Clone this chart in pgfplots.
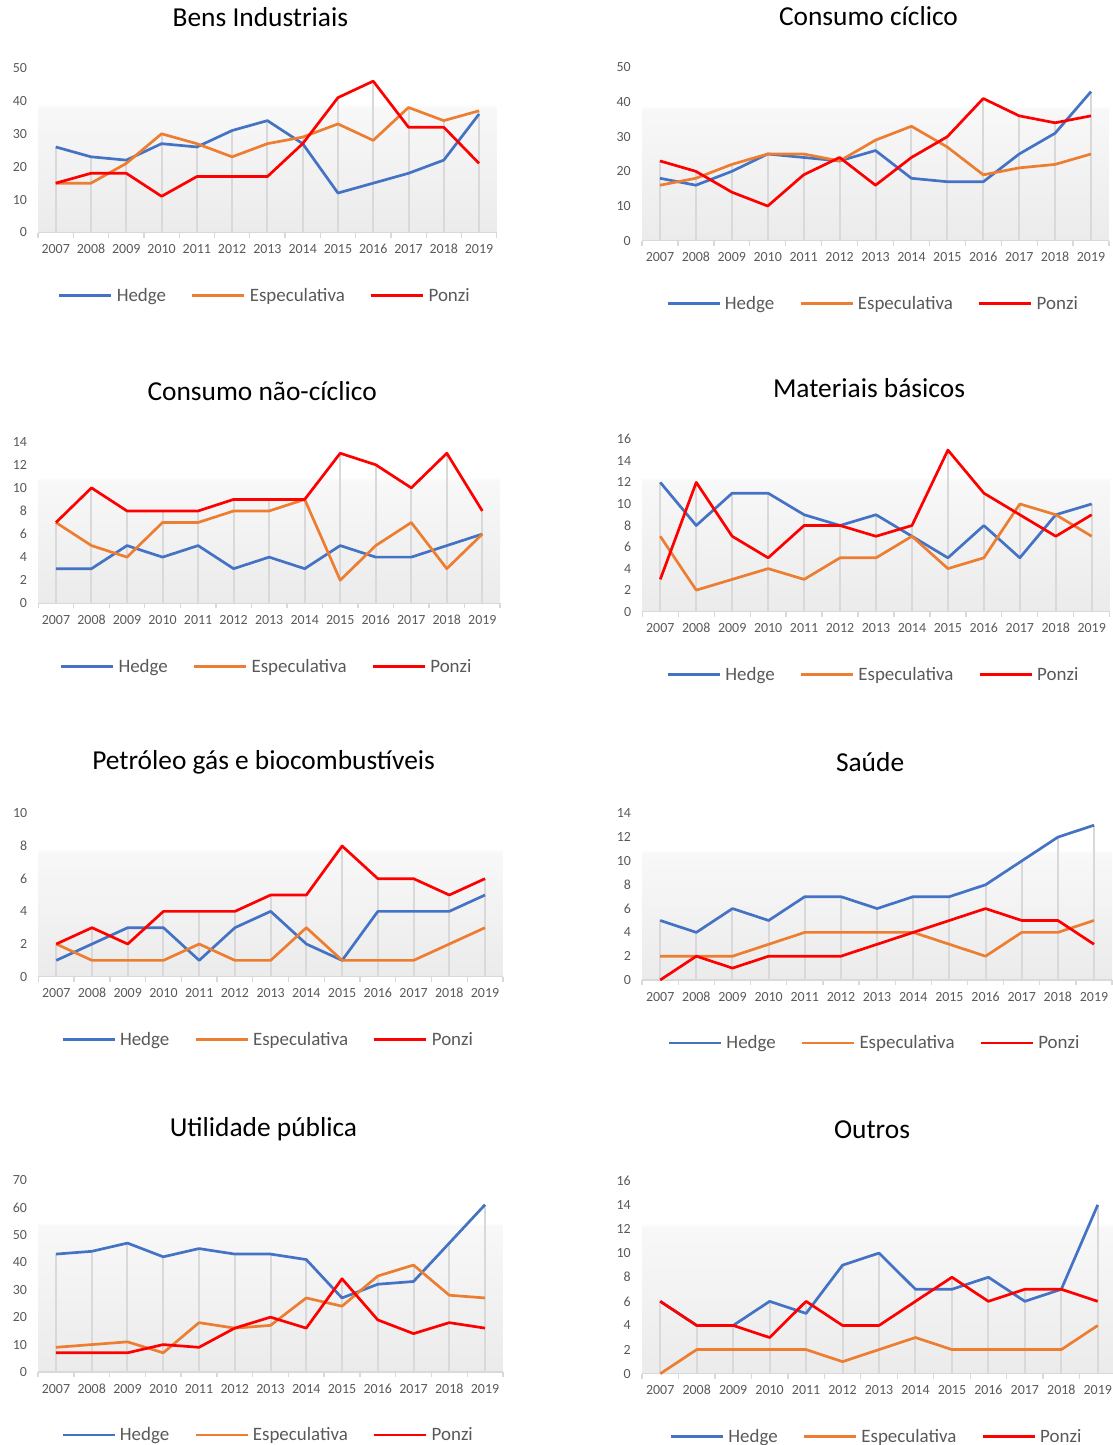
\documentclass[border=0pt]{standalone}
\usepackage{pgfplots}
\pgfplotsset{compat=1.18}
\usepackage{pgfplotstable}
\usepackage{fontspec}
\setmainfont{Carlito}
\definecolor{hedge}{HTML}{4472C4}
\definecolor{esp}{HTML}{ED7D31}
\definecolor{ponzi}{HTML}{FF0000}
\definecolor{dropc}{HTML}{D9D9D9}
\definecolor{lblc}{HTML}{595959}
\definecolor{bgbot}{HTML}{EBEBEB}
\definecolor{bgtop}{HTML}{F8F8F8}
\pgfdeclareverticalshading{plotbg}{100bp}{color(0bp)=(bgbot); color(25bp)=(bgbot); color(63bp)=(bgtop); color(64bp)=(white); color(100bp)=(white)}

\pgfplotstableread{
x H E P
0 26 15 15
1 23 15 18
2 22 21 18
3 27 30 11
4 26 27 17
5 31 23 17
6 34 27 17
7 27 29 27
8 12 33 41
9 15 28 46
10 18 38 32
11 22 34 32
12 36 37 21
}\tA
\pgfplotstableread{
x H E P
0 18 16 23
1 16 18 20
2 20 22 14
3 25 25 10
4 24 25 19
5 23 23 24
6 26 29 16
7 18 33 24
8 17 27 30
9 17 19 41
10 25 21 36
11 31 22 34
12 43 25 36
}\tB
\pgfplotstableread{
x H E P
0 3 7 7
1 3 5 10
2 5 4 8
3 4 7 8
4 5 7 8
5 3 8 9
6 4 8 9
7 3 9 9
8 5 2 13
9 4 5 12
10 4 7 10
11 5 3 13
12 6 6 8
}\tC
\pgfplotstableread{
x H E P
0 12 7 3
1 8 2 12
2 11 3 7
3 11 4 5
4 9 3 8
5 8 5 8
6 9 5 7
7 7 7 8
8 5 4 15
9 8 5 11
10 5 10 9
11 9 9 7
12 10 7 9
}\tD
\pgfplotstableread{
x H E P
0 1 2 2
1 2 1 3
2 3 1 2
3 3 1 4
4 1 2 4
5 3 1 4
6 4 1 5
7 2 3 5
8 1 1 8
9 4 1 6
10 4 1 6
11 4 2 5
12 5 3 6
}\tE
\pgfplotstableread{
x H E P
0 5 2 0
1 4 2 2
2 6 2 1
3 5 3 2
4 7 4 2
5 7 4 2
6 6 4 3
7 7 4 4
8 7 3 5
9 8 2 6
10 10 4 5
11 12 4 5
12 13 5 3
}\tF
\pgfplotstableread{
x H E P
0 43 9 7
1 44 10 7
2 47 11 7
3 42 7 10
4 45 18 9
5 43 16 16
6 43 17 20
7 41 27 16
8 27 24 34
9 32 35 19
10 33 39 14
11 47 28 18
12 61 27 16
}\tG
\pgfplotstableread{
x H E P
0 6 0 6
1 4 2 4
2 4 2 4
3 6 2 3
4 5 2 6
5 9 1 4
6 10 2 4
7 7 3 6
8 7 2 8
9 8 2 6
10 6 2 7
11 7 2 7
12 14 4 6
}\tH

\pgfplotsset{
 panel/.style={
  scale only axis, anchor=south west, clip=false,
  xmin=-0.5, xmax=12.5, ymin=0,
  xtick={0,...,12},
  xticklabels={2007,2008,2009,2010,2011,2012,2013,2014,2015,2016,2017,2018,2019},
  minor xtick={-0.5,0.5,...,12.5},
  axis x line*=bottom, axis y line*=left,
  x axis line style={draw=dropc, line width=1.3bp, -},
  y axis line style={draw=none},
  tick align=outside,
  major tick length=0pt, minor tick length=5bp,
  minor tick style={draw=dropc, line width=1.3bp},
  major tick style={draw=none},
  tick label style={font=\fontsize{14}{16}\selectfont, text=lblc, inner sep=0pt},
  xticklabel style={text height=9bp, text depth=0pt, anchor=north},
  /pgf/number format/assume math mode=true,
  yticklabel shift=11bp,
  xticklabel shift=12bp,
  axis background/.style={shading=plotbg},
  title style={font=\fontsize{27.5}{31}\selectfont, text=black, at={(0.5,1)}, anchor=center, yshift=45bp, xshift=-7bp},
  legend style={at={(0.5,0)}, anchor=center, yshift=-63bp, xshift=-3bp, draw=none, fill=none, legend columns=3, font=\fontsize{19}{22}\selectfont, text=lblc, /tikz/every even column/.append style={column sep=24bp}, /tikz/every odd column/.append style={column sep=3bp}, nodes={inner sep=1bp}},
  legend image code/.code={\draw[##1] (0bp,0bp) -- (52bp,0bp);},
  legend entries={Hedge,Especulativa,Ponzi},
  every axis plot/.append style={line width=2.7bp, line join=round},
 },
 drop/.style={ycomb, draw=dropc, line width=2bp, forget plot},
}

\newcommand{\panel}[8]{%
\begin{axis}[panel, at={(#1bp,-#2bp)}, width=#3bp, height=#4bp, ymax=#5, ytick={0,#6,...,#5}, title={#7}]
\addplot[drop] table[x=x,y=H]{#8};
\addplot[drop] table[x=x,y=E]{#8};
\addplot[drop] table[x=x,y=P]{#8};
\addplot[draw=hedge] table[x=x,y=H]{#8};
\addplot[draw=esp] table[x=x,y=E]{#8};
\addplot[draw=ponzi] table[x=x,y=P]{#8};
\end{axis}}

\begin{document}
\begin{tikzpicture}
\useasboundingbox (0,0) rectangle (1113bp,-1445bp);
\panel{38.1}{232.5}{458.6}{164.5}{50}{10}{Bens Industriais}{\tA}
\panel{642.0}{240.7}{467.0}{173.4}{50}{10}{Consumo cíclico}{\tB}
\panel{38.2}{603.3}{461.9}{161.6}{14}{2}{Consumo não-cíclico}{\tC}
\panel{642.3}{611.7}{467.4}{172.4}{16}{2}{Materiais básicos}{\tD}
\panel{38.4}{976.7}{464.5}{163.4}{10}{2}{Petróleo gás e biocombustíveis}{\tE}
\panel{642.1}{980.0}{470.0}{166.7}{14}{2}{Saúde}{\tF}
\panel{38.1}{1372.0}{464.8}{192.0}{70}{10}{Utilidade pública}{\tG}
\panel{642.0}{1373.7}{474.0}{193.0}{16}{2}{Outros}{\tH}
\end{tikzpicture}
\end{document}
